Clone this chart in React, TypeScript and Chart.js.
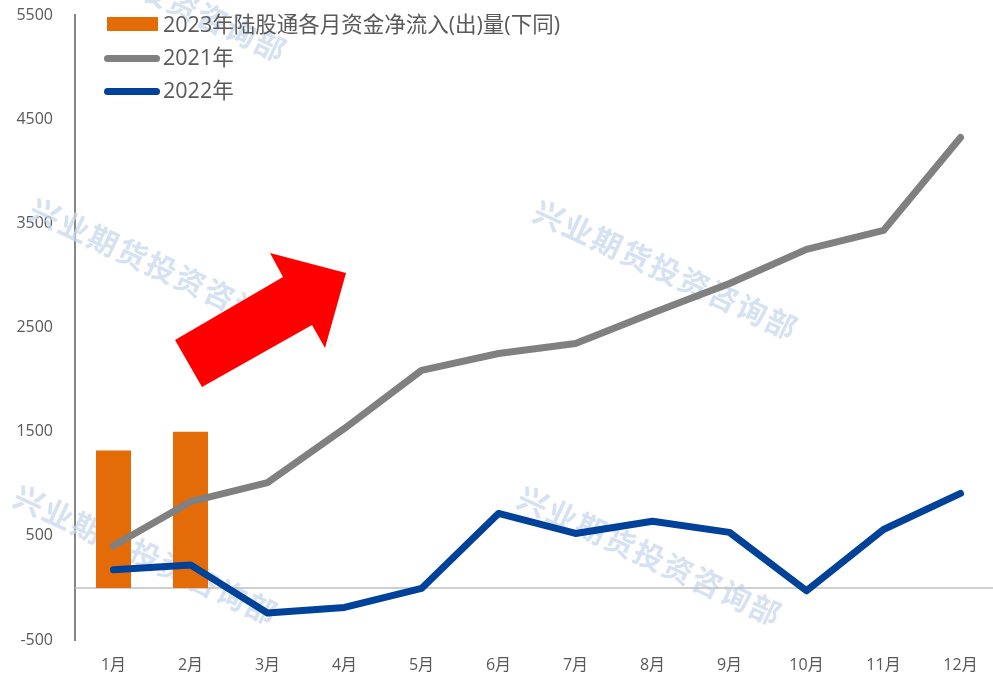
import React, { useEffect, useRef } from "react";
import { Chart, registerables } from "chart.js";

Chart.register(...registerables);

const months = ["1月", "2月", "3月", "4月", "5月", "6月", "7月", "8月", "9月", "10月", "11月", "12月"];
const flow2023 = [1320, 1500];
const flow2021 = [405, 828, 1010, 1531, 2088, 2250, 2347, 2640, 2922, 3250, 3432, 4325];
const flow2022 = [175, 221, -240, -187, -5, 715, 523, 640, 533, -28, 561, 907];
const yMin = -500;
const yMax = 5500;
const yStep = 1000;
const label2023 = "2023年陆股通各月资金净流入(出)量(下同)";
const label2021 = "2021年";
const label2022 = "2022年";
const watermarkText = "兴业期货投资咨询部";

const ORANGE = "#E36C09";
const GRAY = "#808080";
const BLUE = "#00419A";
const TEXT = "#595959";
const FONT = '"Open Sans", "Noto Sans CJK SC", sans-serif';
const CJK = '"Noto Sans CJK SC", sans-serif';

// decoration placements (canvas px)
const watermarkSpots = [
  [155, -8],
  [162, 268],
  [146, 555],
  [666, 270],
  [650, 556],
];
const arrowShape = [
  [175, 340],
  [202, 387],
  [312, 325],
  [325, 348],
  [346, 273],
  [270, 253],
  [283, 277],
];

const decorPlugin = {
  id: "decor",
  beforeDatasetsDraw(chart: any) {
    const { ctx, chartArea, scales } = chart;
    ctx.save();
    ctx.font = `bold 30px ${CJK}`;
    ctx.fillStyle = "rgba(200, 215, 236, 0.75)";
    ctx.textAlign = "center";
    ctx.textBaseline = "middle";
    try { (ctx as any).letterSpacing = "2px"; } catch (e) {}
    for (const [x, y] of watermarkSpots) {
      ctx.save();
      ctx.translate(x, y);
      ctx.rotate((25 * Math.PI) / 180);
      ctx.fillText(watermarkText, 0, 0);
      ctx.restore();
    }
    ctx.restore();
    const y0 = scales.y.getPixelForValue(0);
    ctx.save();
    ctx.strokeStyle = "#BFBFBF";
    ctx.lineWidth = 1.5;
    ctx.beginPath();
    ctx.moveTo(chartArea.left, y0);
    ctx.lineTo(chartArea.right, y0);
    ctx.stroke();
    ctx.restore();
  },
  afterDraw(chart: any) {
    const { ctx } = chart;
    ctx.save();
    ctx.fillStyle = "#FF0000";
    ctx.beginPath();
    arrowShape.forEach(([x, y], i) => (i === 0 ? ctx.moveTo(x, y) : ctx.lineTo(x, y)));
    ctx.closePath();
    ctx.fill();
    ctx.restore();
  },
};

export default function App() {
  const canvasRef = useRef<HTMLCanvasElement | null>(null);

  useEffect(() => {
    if (!canvasRef.current) return;
    const chart = new Chart(canvasRef.current, {
      type: "bar",
      data: {
        labels: months,
        datasets: [
          {
            type: "line",
            label: label2022,
            data: flow2022,
            borderColor: BLUE,
            backgroundColor: BLUE,
            borderWidth: 7,
            borderCapStyle: "round",
            borderJoinStyle: "round",
            pointRadius: 0,
            tension: 0,
            order: 1,
          },
          {
            type: "line",
            label: label2021,
            data: flow2021,
            borderColor: GRAY,
            backgroundColor: GRAY,
            borderWidth: 7,
            borderCapStyle: "round",
            borderJoinStyle: "round",
            pointRadius: 0,
            tension: 0,
            order: 2,
          },
          {
            type: "bar",
            label: label2023,
            data: flow2023,
            backgroundColor: ORANGE,
            categoryPercentage: 1,
            barPercentage: 0.455,
            order: 3,
          },
        ],
      } as any,
      options: {
        animation: false,
        responsive: true,
        maintainAspectRatio: false,
        layout: { padding: { top: 15, left: 0, right: 0, bottom: 0 } },
        plugins: {
          legend: { display: false },
          tooltip: { enabled: false },
        },
        scales: {
          x: {
            offset: true,
            grid: { display: false, drawTicks: false },
            border: { display: false },
            ticks: {
              color: TEXT,
              font: { family: FONT, size: 16 },
              padding: 16,
              maxRotation: 0,
              autoSkip: false,
            },
            afterFit: (s: any) => {
              s.height = 36;
            },
          },
          y: {
            min: yMin,
            max: yMax,
            grid: {
              display: true,
              color: "rgba(0,0,0,0)",
              drawTicks: true,
              tickLength: 22,
              tickColor: "rgba(0,0,0,0)",
            },
            border: { display: true, color: "#868686", width: 2 },
            ticks: {
              stepSize: yStep,
              color: TEXT,
              font: { family: FONT, size: 16 },
              padding: 0,
              callback: (v: any) => String(v),
            },
            afterFit: (s: any) => {
              s.width = 75;
            },
          },
        },
      } as any,
      plugins: [decorPlugin],
    });
    return () => chart.destroy();
  }, []);

  const legendText: React.CSSProperties = {
    position: "absolute",
    left: 163,
    fontFamily: FONT,
    fontSize: 21.5,
    color: TEXT,
    lineHeight: "24px",
    whiteSpace: "nowrap",
  };

  return (
    <div style={{ position: "absolute", left: 0, top: 0, width: 993, height: 676, overflow: "hidden", background: "#fff" }}>
      <div style={{ position: "absolute", left: 0, top: 0, width: 999, height: 676 }}>
        <canvas ref={canvasRef} />
      </div>
      <div style={{ position: "absolute", left: 107, top: 17, width: 51, height: 14, background: ORANGE }} />
      <div style={{ ...legendText, top: 12 }}>{label2023}</div>
      <div style={{ position: "absolute", left: 104, top: 54.5, width: 56, height: 7, borderRadius: 4, background: GRAY }} />
      <div style={{ ...legendText, top: 45 }}>{label2021}</div>
      <div style={{ position: "absolute", left: 104, top: 87.5, width: 56, height: 7, borderRadius: 4, background: BLUE }} />
      <div style={{ ...legendText, top: 78 }}>{label2022}</div>
    </div>
  );
}
